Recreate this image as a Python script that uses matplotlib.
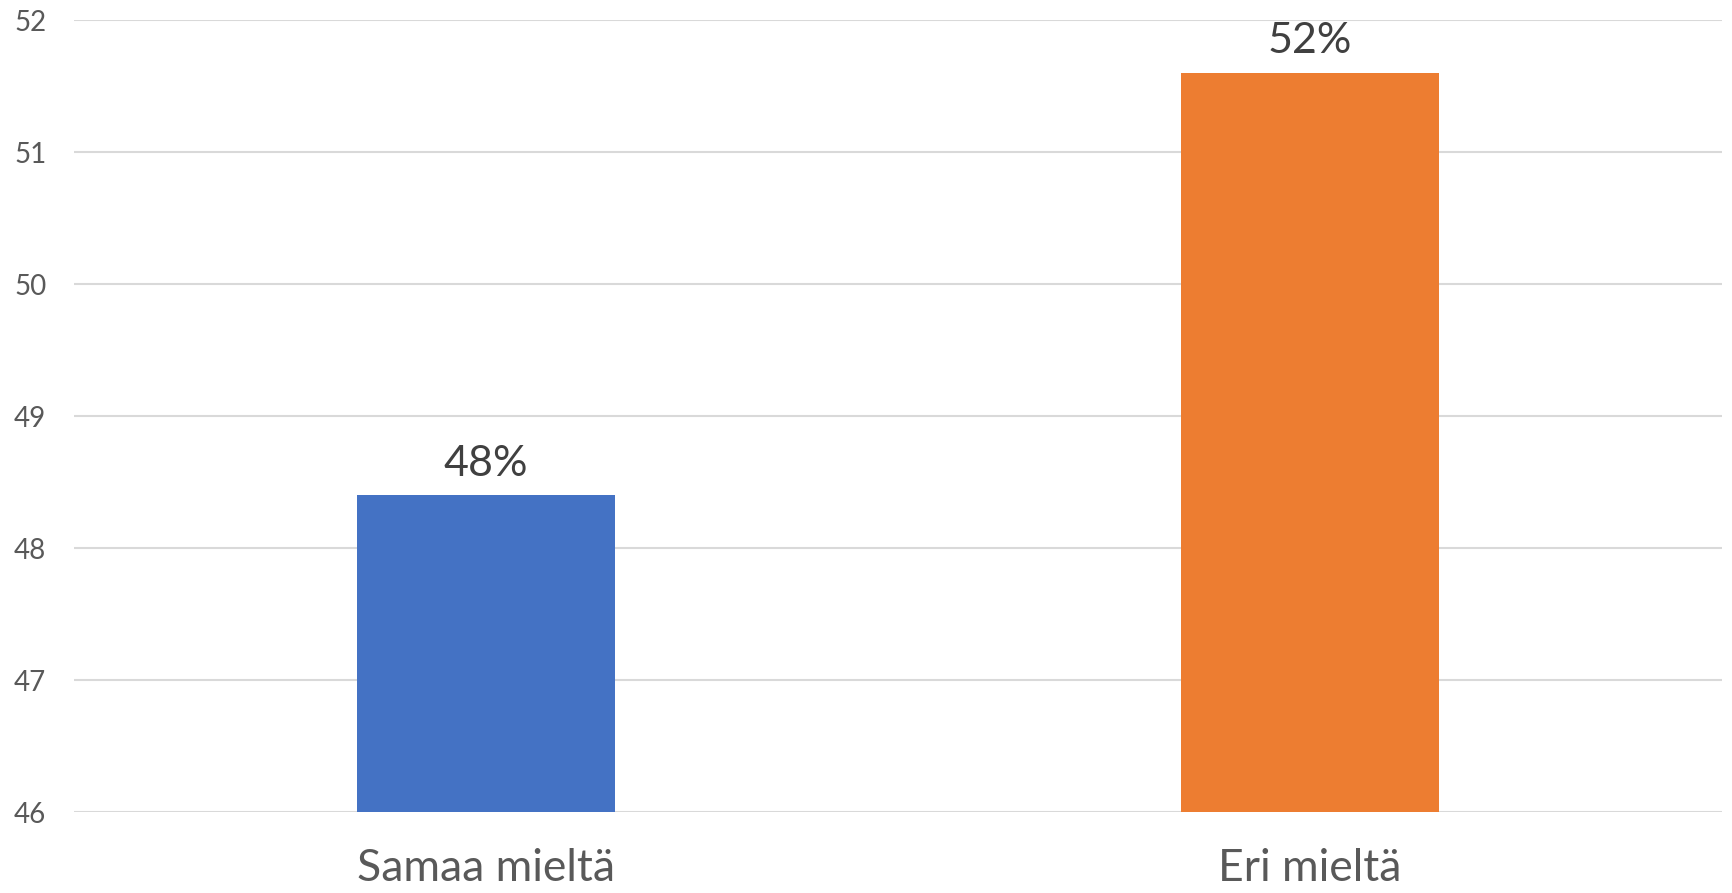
import matplotlib
matplotlib.use('Agg')
import matplotlib.pyplot as plt

# vastaukset
categories = ['Samaa mieltä', 'Eri mieltä']
values = [48.4, 51.6]
labels = ['48%', '52%']
colors = ['#4472C4', '#ED7D31']

yticks = [46, 47, 48, 49, 50, 51, 52]

plt.rcParams['font.family'] = ['Lato', 'DejaVu Sans']

fig = plt.figure(figsize=(17.33, 8.93), dpi=100)
ax = fig.add_axes([0.0427, 0.0907, 0.951, 0.8869])

x = list(range(len(categories)))
bars = ax.bar(x, [v - yticks[0] for v in values], bottom=yticks[0],
              width=0.314, color=colors, zorder=3)

for b, lab in zip(bars, labels):
    ax.annotate(lab, (b.get_x() + b.get_width() / 2, b.get_y() + b.get_height()),
                xytext=(0, 9), textcoords='offset points',
                ha='center', va='bottom', fontsize=31, color='#404040')

ax.set_xlim(-0.5, 1.5)
ax.set_ylim(yticks[0], yticks[-1])
ax.set_yticks(yticks)
ax.set_xticks(x)
ax.set_xticklabels(categories)
ax.tick_params(axis='y', length=0, pad=20, labelsize=20, labelcolor='#595959')
ax.tick_params(axis='x', length=0, pad=26, labelsize=32, labelcolor='#595959')
ax.grid(axis='y', color='#d9d9d9', linewidth=1.5, zorder=0)
for s in ax.spines.values():
    s.set_visible(False)

fig.savefig('out.png', dpi=100)
